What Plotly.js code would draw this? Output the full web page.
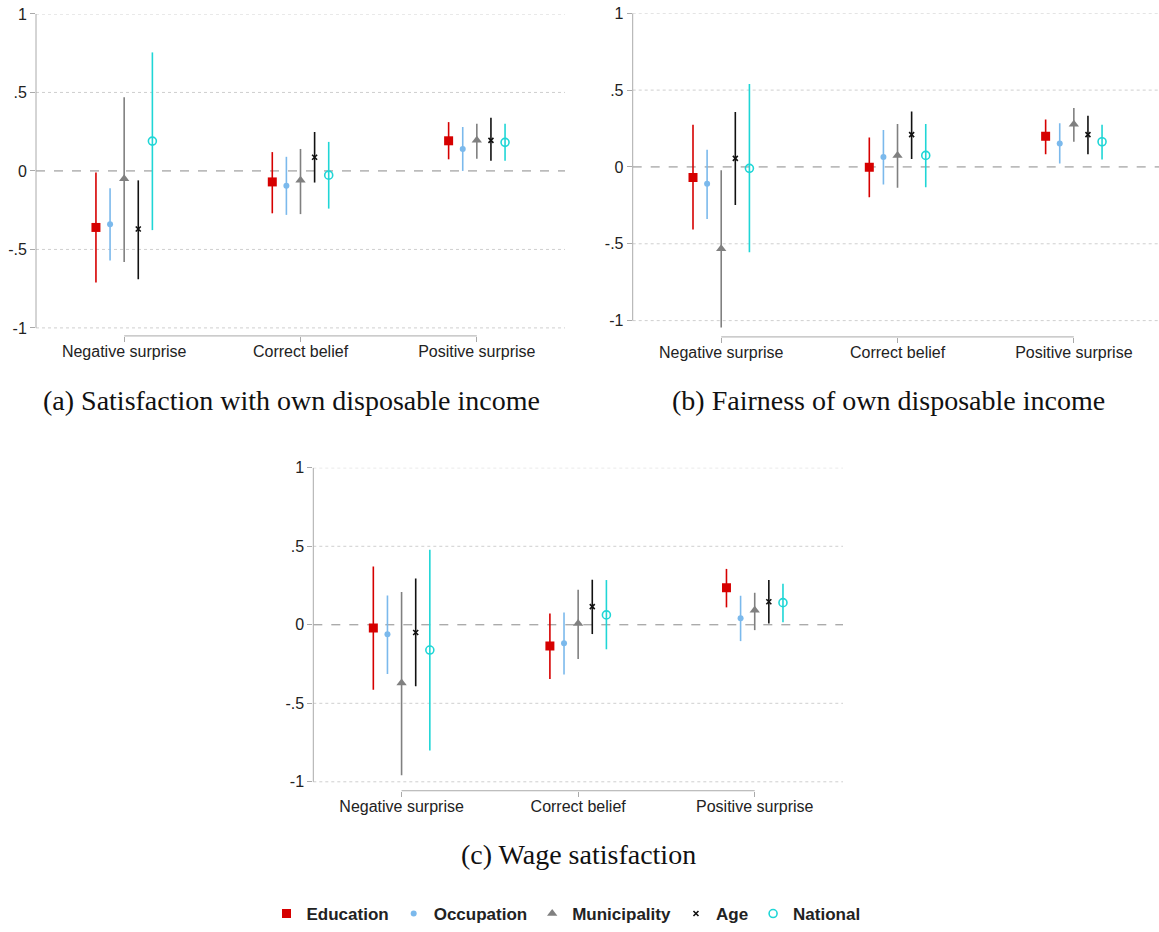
<!DOCTYPE html>
<html>
<head>
<meta charset="utf-8">
<script src="https://cdn.plot.ly/plotly-3.0.1.min.js"></script>
<style>html,body{margin:0;padding:0;background:#fff;}#chart{width:1159px;height:932px;}</style>
</head>
<body>
<div id="chart"></div>
<script>
// ---- Data ----
const categories = ['Negative surprise', 'Correct belief', 'Positive surprise'];
const seriesNames = ['Education', 'Occupation', 'Municipality', 'Age', 'National'];
const yTickVals = [-1, -0.5, 0, 0.5, 1];
const yTickText = ['-1', '-.5', '0', '.5', '1'];
const captions = ['(a) Satisfaction with own disposable income', '(b) Fairness of own disposable income', '(c) Wage satisfaction'];

// Panel (a): rows = series (Education, Occupation, Municipality, Age, National), cols = categories
const aEst = [[-0.36, -0.07, 0.192], [-0.34, -0.095, 0.14], [-0.05, -0.06, 0.195], [-0.37, 0.087, 0.195], [0.19, -0.027, 0.182]];
const aLo  = [[-0.71, -0.27, 0.074], [-0.57, -0.28, 0.0], [-0.58, -0.275, 0.078], [-0.69, -0.074, 0.065], [-0.377, -0.24, 0.065]];
const aHi  = [[-0.01, 0.12, 0.311], [-0.11, 0.09, 0.28], [0.47, 0.14, 0.30], [-0.06, 0.248, 0.338], [0.755, 0.185, 0.30]];

// Panel (b)
const bEst = [[-0.068, -0.002, 0.199], [-0.11, 0.065, 0.153], [-0.533, 0.075, 0.277], [0.056, 0.21, 0.21], [-0.009, 0.075, 0.164]];
const bLo  = [[-0.407, -0.197, 0.082], [-0.338, -0.115, 0.023], [-1.045, -0.136, 0.164], [-0.247, 0.052, 0.082], [-0.555, -0.132, 0.049]];
const bHi  = [[0.275, 0.192, 0.309], [0.112, 0.24, 0.285], [-0.022, 0.279, 0.383], [0.357, 0.361, 0.333], [0.539, 0.279, 0.275]];

// Panel (c)
const cEst = [[-0.021, -0.135, 0.236], [-0.061, -0.118, 0.042], [-0.37, 0.008, 0.092], [-0.049, 0.116, 0.147], [-0.161, 0.063, 0.141]];
const cLo  = [[-0.414, -0.345, 0.111], [-0.313, -0.316, -0.104], [-0.958, -0.218, -0.034], [-0.392, -0.059, 0.008], [-0.80, -0.156, 0.016]];
const cHi  = [[0.371, 0.072, 0.356], [0.187, 0.078, 0.185], [0.209, 0.223, 0.204], [0.295, 0.287, 0.285], [0.478, 0.285, 0.261]];

// ---- Styles ----
const colors = ['#d60000', '#7bb9ec', '#808080', '#111111', '#1fd6d6'];
const symbols = ['square', 'circle', 'triangle-up', 'x-thin-open', 'circle-open'];
const sizes = [9, 6, 9, 5, 8];
const offsets = [-0.16, -0.08, 0, 0.08, 0.16];

const W = 1159, H = 932;
const px = v => v / W, py = v => 1 - v / H;

const panels = [
  {est: aEst, lo: aLo, hi: aHi, xa: 'x', ya: 'y', xd: [36, 565], yd: [337, 14], yr: [-1.051, 1], xr: [-0.5, 2.5]},
  {est: bEst, lo: bLo, hi: bHi, xa: 'x2', ya: 'y2', xd: [632.7, 1159], yd: [338, 13.3], yr: [-1.106, 1], xr: [-0.502, 2.483]},
  {est: cEst, lo: cLo, hi: cHi, xa: 'x3', ya: 'y3', xd: [313.3, 843], yd: [793.3, 469.3], yr: [-1.057, 1], xr: [-0.5, 2.5]}
];

const traces = [];
panels.forEach((p, pi) => {
  seriesNames.forEach((name, si) => {
    const xs = categories.map((c, ci) => ci + offsets[si]);
    const ys = p.est[si];
    traces.push({
      type: 'scatter', mode: 'markers', name: name,
      x: xs, y: ys, xaxis: p.xa, yaxis: p.ya,
      showlegend: pi === 0,
      legendgroup: name,
      marker: {
        symbol: symbols[si], size: sizes[si], color: colors[si],
        line: {color: colors[si], width: (si === 3 ? 1.6 : (si === 4 ? 1.6 : 0))}
      },
      error_y: {
        type: 'data', symmetric: false,
        array: ys.map((v, i) => p.hi[si][i] - v),
        arrayminus: ys.map((v, i) => v - p.lo[si][i]),
        color: colors[si], thickness: 1.6, width: 0
      },
      hoverinfo: 'x+y'
    });
  });
});

const layout = {
  width: W, height: H,
  margin: {l: 0, r: 0, t: 0, b: 0},
  paper_bgcolor: '#ffffff', plot_bgcolor: '#ffffff',
  font: {family: 'Liberation Sans, Arial, sans-serif', size: 16, color: '#222'},
  showlegend: true,
  legend: {
    orientation: 'h', x: px(566), xanchor: 'center', y: py(917), yanchor: 'middle',
    font: {family: 'Liberation Sans, Arial, sans-serif', size: 17, color: '#222', weight: 'bold'},
    itemwidth: 30, tracegroupgap: 0
  },
  shapes: [],
  annotations: []
};

panels.forEach((p, pi) => {
  const sfx = pi === 0 ? '' : String(pi + 1);
  layout['xaxis' + sfx] = {
    domain: [px(p.xd[0]), px(p.xd[1])], range: p.xr, anchor: 'y' + sfx,
    tickvals: [0, 1, 2], ticktext: categories,
    ticks: 'outside', ticklen: 5, tickwidth: 1, tickcolor: '#aaaaaa',
    ticklabelstandoff: -4,
    showgrid: false, zeroline: false, showline: false,
    tickfont: {size: 16, color: '#222'}, fixedrange: true
  };
  layout['yaxis' + sfx] = {
    domain: [py(p.yd[0]), py(p.yd[1])], range: p.yr, anchor: 'x' + sfx,
    tickvals: yTickVals, ticktext: yTickText,
    ticks: 'outside', ticklen: 5, tickwidth: 1, tickcolor: '#aaaaaa',
    showgrid: false, zeroline: false, showline: false,
    tickfont: {size: 16, color: '#222'}, fixedrange: true
  };
  const xr = 'x' + sfx, yr = 'y' + sfx;
  // dotted gridlines at non-zero ticks
  yTickVals.filter(v => v !== 0).forEach(v => {
    layout.shapes.push({type: 'line', xref: xr + ' domain', x0: 0, x1: 1, yref: yr, y0: v, y1: v,
      line: {color: '#cfcfcf', width: 1, dash: 'dot'}, layer: 'below'});
  });
  // y axis line from -1 to 1
  layout.shapes.push({type: 'line', xref: xr + ' domain', x0: 0, x1: 0, yref: yr, y0: -1, y1: 1,
    line: {color: '#aaaaaa', width: 1}});
  // x axis line from first to last category
  layout.shapes.push({type: 'line', xref: xr, x0: 0, x1: 2, yref: yr + ' domain', y0: 0, y1: 0,
    line: {color: '#aaaaaa', width: 1}});
  // dashed zero line
  layout.shapes.push({type: 'line', xref: xr + ' domain', x0: 0, x1: 1, yref: yr, y0: 0, y1: 0,
    line: {color: '#8a8a8a', width: 1, dash: 'dash'}, layer: 'below'});
});

// captions
const capPos = [[291, 402], [888, 402], [578, 857]];
captions.forEach((t, i) => {
  layout.annotations.push({
    text: t, xref: 'paper', yref: 'paper', x: px(capPos[i][0]), y: py(capPos[i][1]),
    xanchor: 'center', yanchor: 'middle', showarrow: false,
    font: {family: 'Liberation Serif, DejaVu Serif, serif', size: 28, color: '#111'}
  });
});

Plotly.newPlot('chart', traces, layout, {displayModeBar: false, staticPlot: true});
</script>
</body>
</html>
